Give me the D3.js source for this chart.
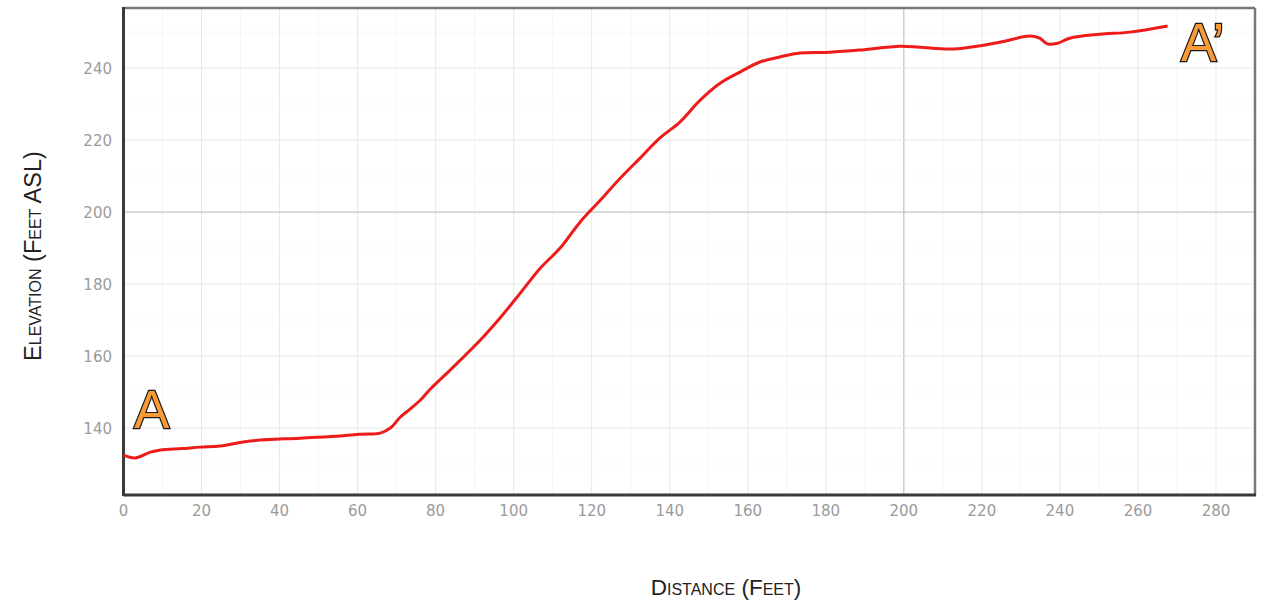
<!DOCTYPE html>
<html>
<head>
<meta charset="utf-8">
<script src="https://cdn.jsdelivr.net/npm/d3@7"></script>
<style>
  body { margin: 0; background: #fff; }
  .tick-label { font-family: "DejaVu Sans", sans-serif; font-size: 15px; fill: #9a9a9a; }
  .axis-title { font-family: "Liberation Sans", Arial, sans-serif; fill: #222; font-variant: small-caps; }
  .end-label { font-family: "Liberation Sans", Arial, sans-serif; font-size: 53px; fill: #f89a35; stroke: #1a1a1a; stroke-width: 2.4px; paint-order: stroke; }
</style>
</head>
<body>
<div id="chart"></div>
<script>
// profile: distance (feet) vs elevation (feet ASL)
const distance = [0, 3, 6.9, 9.5, 15, 19.7, 24.8, 32.5, 45.3, 55.6, 60.7, 65.8, 68.4, 70.9, 73.5, 76.1, 78.6,
  83.7, 91.4, 96.5, 101.7, 106.8, 111.9, 117, 122.2, 127.3, 132.4, 137.5, 142.6, 147.8, 152.9, 158, 163.1,
  168.2, 173.4, 181, 188.7, 199, 204.1, 211.8, 216.9, 224.6, 232.3, 234.8, 236.9, 239.4, 242.5, 250.2, 257.9, 267.6];
const elevation = [132.5, 131.7, 133.3, 133.9, 134.3, 134.7, 135, 136.4, 137.2, 137.8, 138.3, 138.6, 140, 143, 145.3, 147.8, 150.8,
  156.1, 164.4, 170.6, 177.5, 184.4, 190, 197.2, 203.3, 209.4, 215, 220.6, 225, 231.1, 235.8, 238.9, 241.7,
  243.1, 244.2, 244.4, 245, 246.1, 245.8, 245.3, 245.8, 247.2, 248.9, 248.3, 246.7, 246.9, 248.3, 249.4, 250, 251.7];
const xTicks = [0, 20, 40, 60, 80, 100, 120, 140, 160, 180, 200, 220, 240, 260, 280];
const yTicks = [140, 160, 180, 200, 220, 240];
const xMinor = d3.range(10, 290, 20);
const yMinor = [130, 150, 170, 190, 210, 230, 250];

const width = 1264, height = 606;
const plot = { left: 123.5, right: 1255, top: 8, bottom: 495 };

const svg = d3.select('#chart').append('svg')
  .attr('width', width)
  .attr('height', height);

const x = d3.scaleLinear().domain([0, 290]).range([plot.left, plot.right]);
const y = d3.scaleLinear().domain([121.4, 256.7]).range([plot.bottom, plot.top]);

// gridlines: faint minor ones, light majors, and the darker 200 lines
const grid = svg.append('g');
grid.selectAll('.vminor').data(xMinor).join('line')
  .attr('x1', d => x(d)).attr('x2', d => x(d))
  .attr('y1', plot.top).attr('y2', plot.bottom)
  .attr('stroke', '#f6f6f6');
grid.selectAll('.hminor').data(yMinor).join('line')
  .attr('class', 'hminor')
  .attr('x1', plot.left).attr('x2', plot.right)
  .attr('y1', d => y(d)).attr('y2', d => y(d))
  .attr('stroke', '#f6f6f6');
grid.selectAll('.vmajor').data(xTicks.slice(1)).join('line')
  .attr('class', 'vmajor')
  .attr('x1', d => x(d)).attr('x2', d => x(d))
  .attr('y1', plot.top).attr('y2', plot.bottom)
  .attr('stroke', d => d === 200 ? '#b8b8b8' : '#e8e8e8');
grid.selectAll('.hmajor').data(yTicks).join('line')
  .attr('class', 'hmajor')
  .attr('x1', plot.left).attr('x2', plot.right)
  .attr('y1', d => y(d)).attr('y2', d => y(d))
  .attr('stroke', d => d === 200 ? '#b8b8b8' : '#e8e8e8');

// frame: lighter top/right, dark left/bottom
svg.append('line').attr('x1', plot.left).attr('x2', plot.right).attr('y1', plot.top).attr('y2', plot.top)
  .attr('stroke', '#777').attr('stroke-width', 2.5);
svg.append('line').attr('x1', plot.right).attr('x2', plot.right).attr('y1', plot.top).attr('y2', plot.bottom)
  .attr('stroke', '#777').attr('stroke-width', 2.5);
svg.append('line').attr('x1', plot.left).attr('x2', plot.left).attr('y1', plot.top - 1).attr('y2', plot.bottom + 1)
  .attr('stroke', '#3a3a3a').attr('stroke-width', 3);
svg.append('line').attr('x1', plot.left).attr('x2', plot.right + 1).attr('y1', plot.bottom).attr('y2', plot.bottom)
  .attr('stroke', '#3a3a3a').attr('stroke-width', 3);

// tick labels
svg.selectAll('.xlab').data(xTicks).join('text')
  .attr('class', 'tick-label')
  .attr('text-anchor', 'middle')
  .attr('x', d => x(d))
  .attr('y', 516)
  .text(d => d);
svg.selectAll('.ylab').data(yTicks).join('text')
  .attr('class', 'tick-label')
  .attr('text-anchor', 'end')
  .attr('x', 112)
  .attr('y', d => y(d) + 5.5)
  .text(d => d);

// the profile
const pts = distance.map((d, i) => ({ d, e: elevation[i] }));
const line = d3.line()
  .x(p => x(p.d))
  .y(p => y(p.e))
  .curve(d3.curveCatmullRom);
svg.append('path')
  .datum(pts)
  .attr('fill', 'none')
  .attr('stroke', '#ee1b1b')
  .attr('stroke-width', 3)
  .attr('stroke-linejoin', 'round')
  .attr('d', line);

// axis titles
svg.append('text')
  .attr('class', 'axis-title')
  .attr('text-anchor', 'middle')
  .style('font-size', '22.5px')
  .attr('x', 726).attr('y', 595)
  .text('Distance (Feet)');
svg.append('text')
  .attr('class', 'axis-title')
  .attr('text-anchor', 'middle')
  .style('font-size', '23.5px')
  .attr('transform', 'translate(41, 256) rotate(-90)')
  .text('Elevation (Feet ASL)');

// section end markers
svg.append('text').attr('class', 'end-label').attr('x', 134).attr('y', 428).text('A');
svg.append('text').attr('class', 'end-label').attr('x', 1181).attr('y', 61).text('A\u2019');
</script>
</body>
</html>
